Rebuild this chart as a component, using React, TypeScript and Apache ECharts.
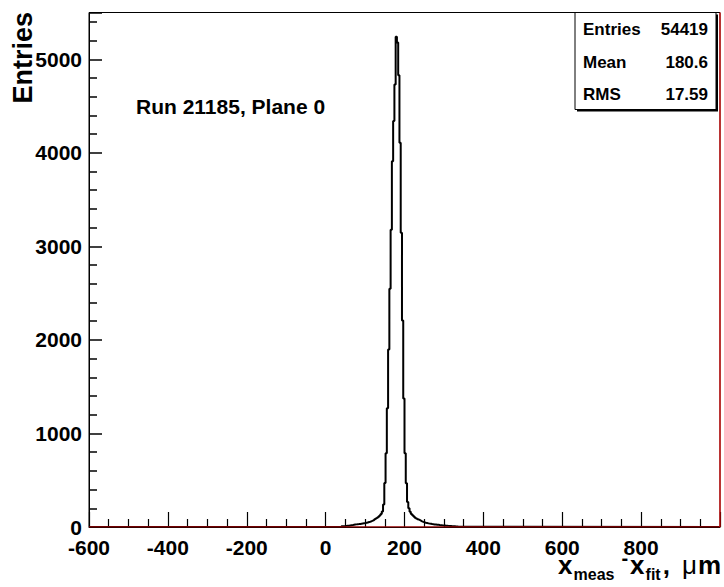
import React, { useEffect, useRef } from "react";
import * as echarts from "echarts";

// ---- data ----
const xMin = -600;
const xMax = 1000;
const yMax = 5500;
const binWidth = 3.2; // µm
const firstBinEdge = 40; // µm, left edge of first non-empty bin
const counts = [
  8, 9, 10, 12, 13, 14, 16, 18, 20, 23,
  26, 28, 30, 31, 33, 35, 37, 39, 42, 45,
  49, 53, 57, 62, 68, 74, 82, 90, 99, 110,
  122, 138, 165, 240, 470, 789, 1269, 1898, 2548, 3177,
  3910, 4340, 4730, 5240, 5180, 4830, 4107, 3145, 2207, 1375,
  789, 469, 267, 200, 162, 140, 125, 112, 100, 90,
  82, 75, 68, 61, 55, 50, 45, 42, 39, 36,
  34, 31, 29, 27, 26, 24, 23, 21, 20, 18,
  17, 16, 14, 13, 12, 11, 10, 9, 8, 7,
  6, 5, 4, 3, 3, 2,
];
const redLine = [
  [xMin, 0],
  [xMax, 0],
  [xMax, yMax],
];
const yTicks = { interval: 1000, minorSplit: 5 };
const xTicks = { interval: 200, minorSplit: 4 };
const statsLabels = ["Entries", "Mean", "RMS"];
const statsValues = ["54419", "180.6", "17.59"];
const runLabel = "Run 21185, Plane 0";
const yTitle = "Entries";

const FONT = "'Liberation Sans', Arial, Helvetica, sans-serif";

export default function App() {
  const ref = useRef<HTMLDivElement>(null);

  useEffect(() => {
    if (!ref.current) return;
    const chart = echarts.init(ref.current, undefined, { renderer: "svg" });

    const histData: number[][] = [[xMin, 0]];
    counts.forEach((c, i) => histData.push([firstBinEdge + i * binWidth, c]));
    histData.push([firstBinEdge + counts.length * binWidth, 0]);
    histData.push([xMax, 0]);

    const statsX0 = 575;
    const statsY0 = 12.5;
    const statsW = 141;
    const statsH = 97;
    const rowH = statsH / 3;

    const graphics: any[] = [
      {
        type: "rect",
        shape: { x: statsX0 + 2, y: statsY0 + 2, width: statsW, height: statsH },
        style: { fill: "#000" },
        z: 100,
      },
      {
        type: "rect",
        shape: { x: statsX0, y: statsY0, width: statsW, height: statsH },
        style: { fill: "#fff", stroke: "#000", lineWidth: 1 },
        z: 101,
      },
    ];
    statsLabels.forEach((lab, i) => {
      graphics.push({
        type: "text",
        x: statsX0 + 8,
        y: statsY0 + rowH * (i + 0.5) + 1,
        z: 102,
        style: { text: lab, font: `bold 17px ${FONT}`, fill: "#000", align: "left", verticalAlign: "middle" },
      });
      graphics.push({
        type: "text",
        x: statsX0 + statsW - 8,
        y: statsY0 + rowH * (i + 0.5) + 1,
        z: 102,
        style: { text: statsValues[i], font: `bold 17px ${FONT}`, fill: "#000", align: "right", verticalAlign: "middle" },
      });
    });
    graphics.push({
      type: "text",
      x: 136,
      y: 106,
      z: 50,
      style: { text: runLabel, font: `bold 21px ${FONT}`, fill: "#000", align: "left", verticalAlign: "middle" },
    });
    graphics.push({
      type: "text",
      x: 23,
      y: 12,
      rotation: Math.PI / 2,
      z: 50,
      style: { text: yTitle, font: `bold 27px ${FONT}`, fill: "#000", align: "right", verticalAlign: "middle" },
    });
    graphics.push({
      type: "text",
      x: 722,
      y: 548,
      z: 50,
      style: {
        text: "{b|x}{s|meas}{h|-}{b|x}{s|fit}{c|,}{mu|μ}{b|m}",
        align: "right",
        verticalAlign: "top",
        rich: {
          b: { fontSize: 26, fontWeight: "bold", fontFamily: FONT, lineHeight: 34, fill: "#000", padding: [0, 1, 0, 1] },
          c: { fontSize: 26, fontWeight: "bold", fontFamily: FONT, lineHeight: 34, fill: "#000", padding: [0, 12, 0, 1] },
          mu: { fontSize: 26, fontWeight: "normal", fontFamily: FONT, lineHeight: 34, fill: "#000" },
          s: { fontSize: 16, fontWeight: "bold", fontFamily: FONT, lineHeight: 16, verticalAlign: "bottom", fill: "#000", padding: [0, 1, 0, 0] },
          h: { fontSize: 20, fontWeight: "bold", fontFamily: FONT, lineHeight: 24, verticalAlign: "top", fill: "#000", padding: [0, 1, 0, 6] },
        },
      },
    });

    const labelStyle = { color: "#000", fontSize: 21, fontWeight: "bold" as const, fontFamily: FONT };

    chart.setOption({
      animation: false,
      backgroundColor: "#fff",
      grid: { left: 89, top: 12.5, right: 4, bottom: 60, show: true, borderColor: "#000", borderWidth: 1 },
      xAxis: {
        type: "value",
        min: xMin,
        max: xMax,
        interval: xTicks.interval,
        axisLine: { show: true, onZero: false, lineStyle: { color: "#000", width: 1 } },
        axisTick: { show: true, inside: true, length: 15, lineStyle: { color: "#000", width: 1.2 } },
        minorTick: { show: true, splitNumber: xTicks.minorSplit, length: 8, lineStyle: { color: "#000", width: 1.2 } },
        splitLine: { show: false },
        minorSplitLine: { show: false },
        axisLabel: { ...labelStyle, margin: 10, showMaxLabel: false, formatter: (v: number) => String(v) },
      },
      yAxis: {
        type: "value",
        min: 0,
        max: yMax,
        interval: yTicks.interval,
        axisLine: { show: true, onZero: false, lineStyle: { color: "#000", width: 1 } },
        axisTick: { show: true, inside: true, length: 13, lineStyle: { color: "#000", width: 1.5 } },
        minorTick: { show: true, splitNumber: yTicks.minorSplit, length: 8, lineStyle: { color: "#000", width: 1.5 } },
        splitLine: { show: false },
        minorSplitLine: { show: false },
        axisLabel: { ...labelStyle, margin: 7, showMaxLabel: false, formatter: (v: number) => String(v) },
      },
      series: [
        { type: "line", data: histData, step: "end", symbol: "none", lineStyle: { color: "#000", width: 2 }, z: 3 },
        { type: "line", data: redLine, symbol: "none", lineStyle: { color: "#e00000", width: 1.2 }, z: 4 },
      ],
      graphic: graphics,
    });

    return () => chart.dispose();
  }, []);

  return <div ref={ref} style={{ position: "absolute", left: 0, top: 0, width: 724, height: 587, background: "#fff" }} />;
}
